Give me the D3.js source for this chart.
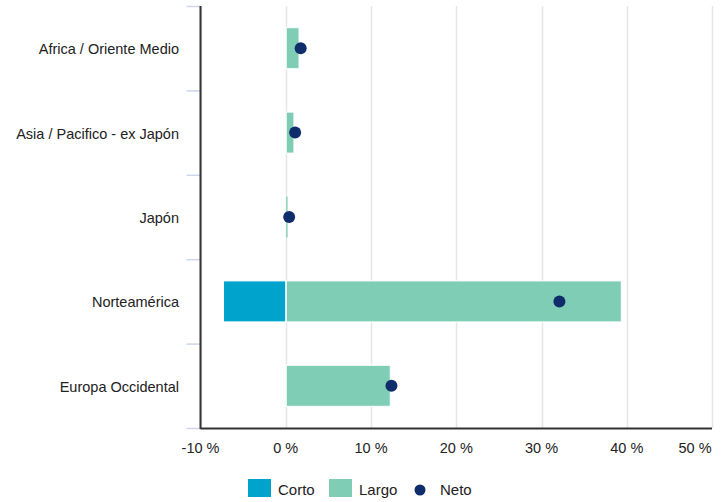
<!DOCTYPE html>
<html>
<head>
<meta charset="utf-8">
<script src="https://cdn.jsdelivr.net/npm/d3@7"></script>
<style>
  body { margin: 0; background: #fff; }
  svg { font-family: Helvetica, Arial, "Liberation Sans", sans-serif; }
</style>
</head>
<body>
<svg id="chart" width="727" height="502"></svg>
<script>
// data
const regions = ['Africa / Oriente Medio', 'Asia / Pacifico - ex Japón', 'Japón', 'Norteamérica', 'Europa Occidental'];
const corto = [0, 0, 0, -7.3, 0];
const largo = [1.5, 0.9, 0.15, 39.3, 12.2];
const neto = [1.75, 1.1, 0.4, 32.1, 12.4];
const xTicks = [-10, 0, 10, 20, 30, 40, 50];

const colors = { corto: '#00a3cc', largo: '#7fcdb4', neto: '#0f2d6b' };

const margin = {top: 6, right: 15, bottom: 74, left: 200.5};
const width = 727, height = 502;

const svg = d3.select('#chart');

const x = d3.scaleLinear()
  .domain([-10, 50])
  .range([margin.left, width - margin.right]);

const y = d3.scaleBand()
  .domain(regions)
  .range([margin.top, height - margin.bottom])
  .paddingInner(0)
  .paddingOuter(0);

// grid lines
svg.append('g')
  .selectAll('line')
  .data(xTicks)
  .join('line')
  .attr('x1', d => Math.round(x(d)) + 0.5)
  .attr('x2', d => Math.round(x(d)) + 0.5)
  .attr('y1', margin.top)
  .attr('y2', height - margin.bottom)
  .attr('stroke', '#e6e6e6')
  .attr('stroke-width', 1.5);

// category ticks (band boundaries)
const bounds = regions.map(r => y(r)).concat([height - margin.bottom]);
svg.append('g')
  .selectAll('line')
  .data(bounds)
  .join('line')
  .attr('x1', margin.left - 14)
  .attr('x2', margin.left)
  .attr('y1', d => d + 0.5)
  .attr('y2', d => d + 0.5)
  .attr('stroke', '#ccd6eb')
  .attr('stroke-width', 1.5);

const barH = 41;
const rows = regions.map((r, i) => ({region: r, corto: corto[i], largo: largo[i], neto: neto[i]}));

// corto bars
svg.append('g')
  .selectAll('rect')
  .data(rows.filter(d => d.corto !== 0))
  .join('rect')
  .attr('x', d => x(d.corto))
  .attr('width', d => x(0) - x(d.corto))
  .attr('y', d => y(d.region) + y.bandwidth() / 2 - barH / 2)
  .attr('height', barH)
  .attr('fill', colors.corto)
  .attr('stroke', '#fff')
  .attr('stroke-width', 1);

// largo bars
svg.append('g')
  .selectAll('rect')
  .data(rows)
  .join('rect')
  .attr('x', x(0) + 0.5)
  .attr('width', d => Math.max(1.2, x(d.largo) - x(0)))
  .attr('y', d => y(d.region) + y.bandwidth() / 2 - barH / 2)
  .attr('height', barH)
  .attr('fill', colors.largo)
  .attr('stroke', d => x(d.largo) - x(0) > 4 ? '#fff' : 'none')
  .attr('stroke-width', 1);

// neto dots
svg.append('g')
  .selectAll('circle')
  .data(rows)
  .join('circle')
  .attr('cx', d => x(d.neto))
  .attr('cy', d => y(d.region) + y.bandwidth() / 2)
  .attr('r', 6)
  .attr('fill', colors.neto);

// axis lines
svg.append('line')
  .attr('x1', margin.left).attr('x2', margin.left)
  .attr('y1', margin.top).attr('y2', height - margin.bottom + 1)
  .attr('stroke', '#333').attr('stroke-width', 2);
svg.append('line')
  .attr('x1', margin.left).attr('x2', width - margin.right)
  .attr('y1', height - margin.bottom + 0.5).attr('y2', height - margin.bottom + 0.5)
  .attr('stroke', '#333').attr('stroke-width', 2);

// category labels
svg.append('g')
  .selectAll('text')
  .data(regions)
  .join('text')
  .attr('x', 179)
  .attr('y', d => y(d) + y.bandwidth() / 2 + 6)
  .attr('text-anchor', 'end')
  .attr('font-size', 14.5)
  .attr('fill', '#222')
  .text(d => d);

// x tick labels
svg.append('g')
  .selectAll('text')
  .data(xTicks)
  .join('text')
  .attr('x', d => d === 50 ? x(d) - 17 : x(d))
  .attr('y', 453)
  .attr('text-anchor', 'middle')
  .attr('font-size', 14.5)
  .attr('fill', '#222')
  .text(d => d + ' %');

// legend
const legend = svg.append('g').attr('font-size', 15).attr('fill', '#222');
legend.append('rect').attr('x', 248).attr('y', 479).attr('width', 23).attr('height', 18).attr('fill', colors.corto);
legend.append('text').attr('x', 278).attr('y', 495).text('Corto');
legend.append('rect').attr('x', 329).attr('y', 479).attr('width', 23).attr('height', 18).attr('fill', colors.largo);
legend.append('text').attr('x', 359).attr('y', 495).text('Largo');
legend.append('circle').attr('cx', 420).attr('cy', 490).attr('r', 5.5).attr('fill', colors.neto);
legend.append('text').attr('x', 440).attr('y', 495).text('Neto');
</script>
</body>
</html>
